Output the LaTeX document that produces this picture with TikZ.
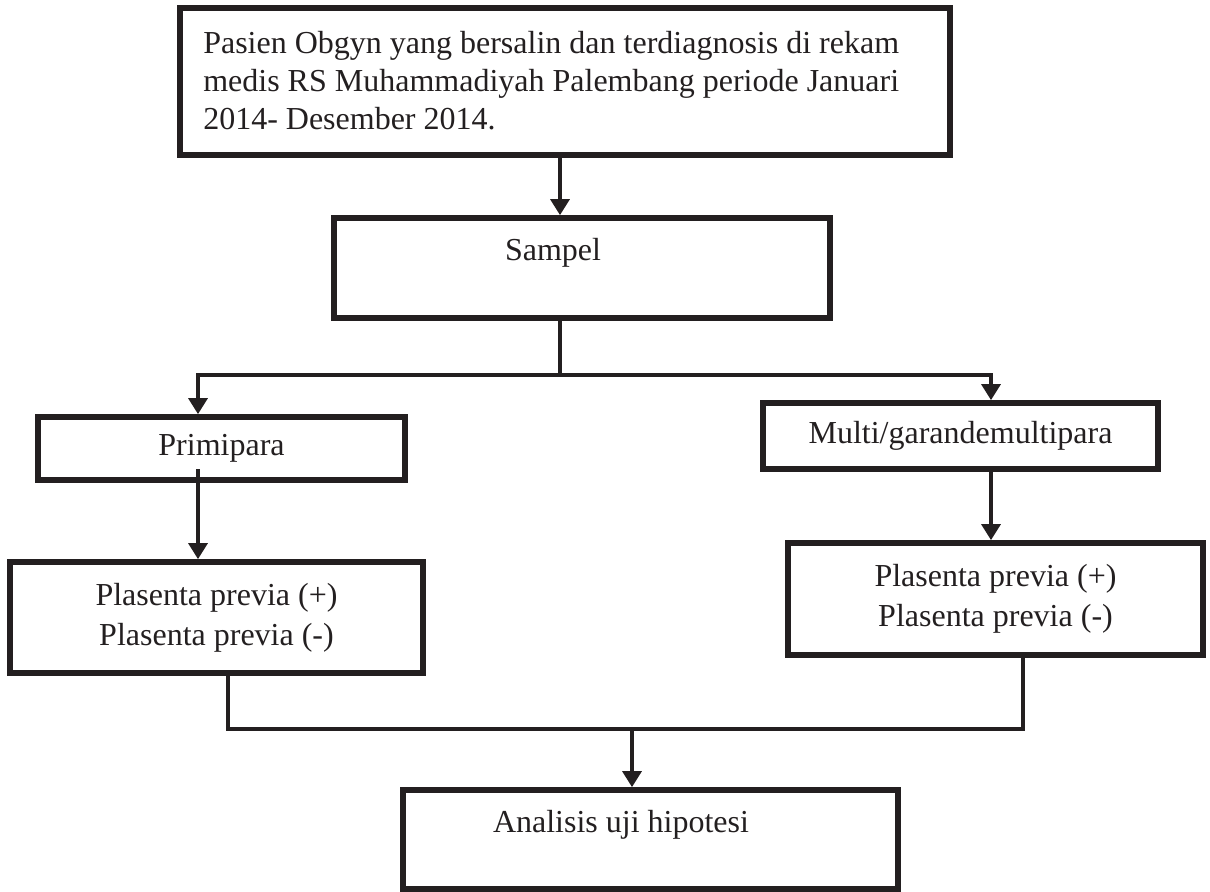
\documentclass[tikz,border=0pt]{standalone}
\usepackage{fontspec}
\setmainfont{Liberation Serif}
\usetikzlibrary{arrows.meta}
\definecolor{ink}{HTML}{231F20}
\begin{document}
\begin{tikzpicture}[x=0.75pt,y=-0.75pt,
  box/.style={draw=ink, line width=4.2pt, rectangle, inner sep=0pt, text=ink,
              font=\fontsize{24}{30}\selectfont, align=center},
  lbl/.style={text=ink, font=\fontsize{24}{30}\selectfont, inner sep=0pt},
  conn/.style={draw=ink, line width=3.4pt},
  arr/.style={conn, -{Triangle[width=14pt,length=12pt]}}]
\useasboundingbox (0,0) rectangle (1210,892);
% boxes
\node[box, minimum width=577.5pt, minimum height=110.25pt] (T) at (565,81.5) {};
\node[lbl, align=left, anchor=west, font=\fontsize{24}{28.5}\selectfont] (Ttext) at (203,81)
  {Pasien Obgyn yang bersalin dan terdiagnosis di rekam\\
   medis RS Muhammadiyah Palembang periode Januari\\
   2014- Desember 2014.};
\node[box, minimum width=372pt, minimum height=75pt] (S) at (582,268) {};
\node[lbl] (Stext) at (553,253) {Sampel};
\node[box, minimum width=275.25pt, minimum height=47.25pt] (P) at (221.5,448.5) {Primipara};
\node[box, minimum width=296.25pt, minimum height=49.5pt] (M) at (960.5,436) {Multi/garandemultipara};
\node[box, minimum width=309.75pt, minimum height=83.25pt] (L1) at (216.5,617.5)
  {Plasenta previa (+)\\Plasenta previa (-)};
\node[box, minimum width=311.25pt, minimum height=84pt] (R) at (995.5,599)
  {Plasenta previa (+)\\Plasenta previa (-)};
\node[box, minimum width=371.25pt, minimum height=74.25pt] (B) at (650.5,839.5) {};
\node[lbl] (Btext) at (621,825) {Analisis uji hipotesi};
% helper coordinates
\coordinate (xa) at (560,0);
\coordinate (xl) at (198,0);
\coordinate (xr) at (991,0);
\coordinate (xm) at (632,0);
\coordinate (xL) at (228,0);
\coordinate (xR) at (1023,0);
\coordinate (ysplit) at (0,375);
\coordinate (yjoin) at (0,729);
% connectors
\draw[arr] (T.south -| xa) -- (S.north -| xa);
\draw[conn] (S.south -| xa) -- (xa |- ysplit);
\draw[arr] (xa |- ysplit) -| (P.north -| xl);
\draw[arr] (xa |- ysplit) -| (M.north -| xr);
\draw[arr] ([yshift=10pt]P.south -| xl) -- (L1.north -| xl);
\draw[arr] (M.south -| xr) -- (R.north -| xr);
\draw[conn] (L1.south -| xL) |- (yjoin -| xR) -- (R.south -| xR);
\draw[arr] (xm |- yjoin) -- (B.north -| xm);
\end{tikzpicture}
\end{document}
